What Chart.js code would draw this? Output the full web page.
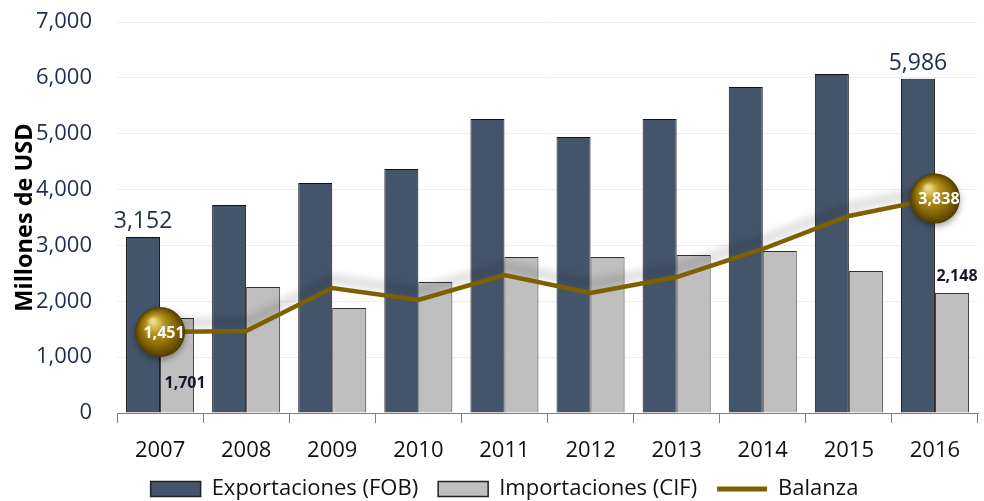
<!DOCTYPE html>
<html lang="es">
<head>
  <meta charset="UTF-8" />
  <title>Exportaciones, importaciones y balanza</title>
  <script src="https://cdn.jsdelivr.net/npm/chart.js"></script>
  <style>
    body { margin: 0; background: #fff; }
    .wrap { width: 984px; height: 501px; }
  </style>
</head>
<body>
  <div class="wrap"><canvas id="chart"></canvas></div>

  <script>
    const years = ['2007', '2008', '2009', '2010', '2011', '2012', '2013', '2014', '2015', '2016'];
    const exportaciones = [3152, 3724, 4117, 4368, 5263, 4941, 5263, 5836, 6069, 5986];
    const importaciones = [1701, 2256, 1880, 2345, 2793, 2793, 2829, 2900, 2542, 2148];
    const balanza = [1451, 1468, 2237, 2023, 2470, 2148, 2434, 2936, 3527, 3838];
    const yTicks = [0, 1000, 2000, 3000, 4000, 5000, 6000, 7000];

    const expColor = '#44546a';
    const impColor = '#bfbfbf';
    const lineColor = '#7f6000';
    const fmt = v => v.toLocaleString('en-US');

    // soft shade above the balance line
    const lineShadow = {
      id: 'lineShadow',
      beforeDatasetDraw(chart, args) {
        if (args.index !== 2) return;
        const ctx = chart.ctx;
        ctx.save();
        ctx.shadowColor = 'rgba(0,0,0,0.28)';
        ctx.shadowBlur = 10;
        ctx.shadowOffsetY = -9;
      },
      afterDatasetDraw(chart, args) {
        if (args.index === 2) chart.ctx.restore();
      }
    };

    function sphere(ctx, x, y, r) {
      ctx.save();
      ctx.shadowColor = 'rgba(0,0,0,0.35)';
      ctx.shadowBlur = 6;
      ctx.shadowOffsetY = 3;
      const g = ctx.createRadialGradient(x - 7, y - 11, 2, x, y, r);
      g.addColorStop(0, '#ecd886');
      g.addColorStop(0.3, '#b8961f');
      g.addColorStop(0.75, '#7d6002');
      g.addColorStop(1, '#4e3b00');
      ctx.fillStyle = g;
      ctx.beginPath();
      ctx.arc(x, y, r, 0, Math.PI * 2);
      ctx.fill();
      ctx.restore();
    }

    const valueLabels = {
      id: 'valueLabels',
      afterDatasetsDraw(chart) {
        const ctx = chart.ctx;
        const exp = chart.getDatasetMeta(0).data;
        const imp = chart.getDatasetMeta(1).data;
        const bal = chart.getDatasetMeta(2).data;
        const last = years.length - 1;
        ctx.save();
        ctx.textAlign = 'center';
        ctx.textBaseline = 'middle';

        ctx.font = '23px "Open Sans"';
        ctx.fillStyle = '#1f2d4d';
        [0, last].forEach(i => ctx.fillText(fmt(exportaciones[i]), exp[i].x, exp[i].y - 15));

        ctx.font = 'bold 16px "Open Sans"';
        ctx.fillStyle = '#16162a';
        ctx.fillText(fmt(importaciones[0]), imp[0].x + 8, imp[0].y + 65);
        ctx.fillText(fmt(importaciones[last]), imp[last].x + 5, imp[last].y - 17);

        [0, last].forEach(i => {
          sphere(ctx, bal[i].x, bal[i].y, 25);
          ctx.font = 'bold 16px "Open Sans"';
          ctx.fillStyle = '#ffffff';
          ctx.fillText(fmt(balanza[i]), bal[i].x + 4, bal[i].y + 1);
        });
        ctx.restore();
      }
    };

    new Chart(document.getElementById('chart'), {
      data: {
        labels: years,
        datasets: [
          {
            type: 'bar', label: 'Exportaciones (FOB)', data: exportaciones, order: 1,
            backgroundColor: expColor, borderColor: '#111111', borderWidth: 1,
            categoryPercentage: 0.79, barPercentage: 1
          },
          {
            type: 'bar', label: 'Importaciones (CIF)', data: importaciones, order: 1,
            backgroundColor: impColor, borderColor: '#333333', borderWidth: 1,
            categoryPercentage: 0.79, barPercentage: 1
          },
          {
            type: 'line', label: 'Balanza', data: balanza, order: 0,
            borderColor: lineColor, backgroundColor: lineColor, borderWidth: 4.5,
            pointRadius: 0, tension: 0
          }
        ]
      },
      options: {
        responsive: true,
        maintainAspectRatio: false,
        animation: false,
        layout: { padding: { left: 31, right: 6, top: 22, bottom: 0 } },
        scales: {
          x: {
            grid: { display: true, drawOnChartArea: false, drawTicks: true, tickLength: 10, color: '#7f7f7f', offset: true },
            border: { color: '#7f7f7f' },
            ticks: { color: '#111111', font: { family: 'Open Sans', size: 22 }, padding: 15 },
            afterFit: s => { s.height = 45; }
          },
          y: {
            min: 0, max: 7000,
            afterBuildTicks: s => { s.ticks = yTicks.map(v => ({ value: v })); },
            grid: { color: '#efefef', drawTicks: true, tickLength: 25, tickColor: 'rgba(0,0,0,0)' },
            border: { display: false },
            ticks: { color: '#1f2d4d', font: { family: 'Open Sans', size: 22 }, padding: 0, callback: v => fmt(v) },
            title: { display: true, text: 'Millones de USD', color: '#000', font: { family: '"Liberation Sans Narrow", "Open Sans"', size: 23.5, weight: 'bold' }, padding: { top: -20, bottom: 0 } },
            afterFit: s => { s.width = 86; }
          }
        },
        plugins: {
          tooltip: { enabled: false },
          legend: {
            position: 'bottom',
            maxHeight: 43,
            labels: {
              usePointStyle: true, pointStyleWidth: 50, boxHeight: 15,
              color: '#111111', font: { family: 'Open Sans', size: 22 }, padding: 20,
              sort: (a, b) => a.datasetIndex - b.datasetIndex,
              generateLabels(chart) {
                const items = Chart.defaults.plugins.legend.labels.generateLabels(chart);
                items.forEach(it => {
                  if (it.datasetIndex === 2) {
                    it.pointStyle = 'line'; it.lineWidth = 5; it.strokeStyle = lineColor;
                  } else {
                    it.pointStyle = 'rect'; it.lineWidth = 1.5; it.strokeStyle = '#222222';
                  }
                });
                return items;
              }
            }
          }
        }
      },
      plugins: [lineShadow, valueLabels]
    });
  </script>
</body>
</html>
